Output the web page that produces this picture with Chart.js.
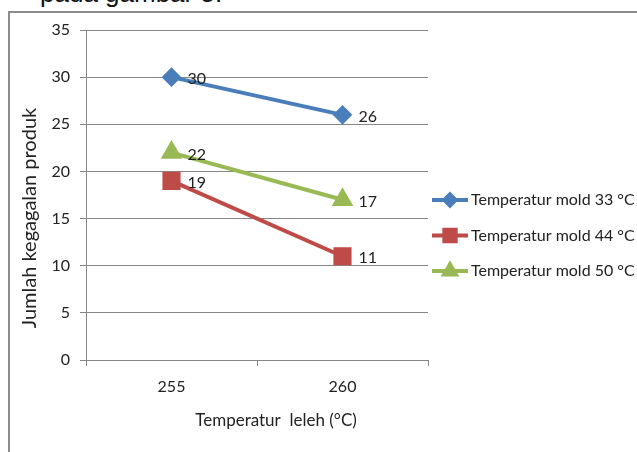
<!DOCTYPE html>
<html lang="en">
<head>
  <meta charset="UTF-8">
  <title>Temperatur leleh</title>
  <script src="https://cdn.jsdelivr.net/npm/chart.js"></script>
  <style>
    html, body {
      margin: 0;
      padding: 0;
      background: #fff;
      overflow: hidden;
    }
    #wrap {
      position: relative;
      width: 637px;
      height: 452px;
    }
    #caption {
      position: absolute;
      left: 40px;
      top: -22px;
      font-family: "Liberation Sans", Arial, sans-serif;
      font-size: 26px;
      color: #111;
      white-space: nowrap;
    }
    #frame {
      position: absolute;
      left: 8px;
      top: 11px;
      width: 640px;
      height: 460px;
      border: 2px solid #8c8c8c;
      box-sizing: border-box;
    }
    #chart {
      position: absolute;
      left: 0;
      top: 0;
    }
  </style>
</head>
<body>
  <div id="wrap">
    <div id="caption">pada gambar 5.</div>
    <div id="frame"></div>
    <canvas id="chart" width="637" height="452"></canvas>
  </div>

  <script>
    const categories = ['255', '260'];
    const seriesNames = ['Temperatur mold 33 °C', 'Temperatur mold 44 °C', 'Temperatur mold 50 °C'];
    const mold33 = [30, 26];
    const mold44 = [19, 11];
    const mold50 = [22, 17];
    const xTitle = 'Temperatur  leleh (°C)';
    const yTitle = 'Jumlah kegagalan produk';

    const colors = ['#4a7ebb', '#be4b48', '#98b954'];
    const styles = ['rectRot', 'rect', 'triangle'];
    const radii = [7, 10, 8.5];
    const font = 'Lato, sans-serif';

    // value labels to the right of each point
    const valueLabels = {
      id: 'valueLabels',
      afterDatasetsDraw(chart) {
        const ctx = chart.ctx;
        ctx.save();
        ctx.font = '16px ' + font;
        ctx.fillStyle = '#222';
        ctx.textAlign = 'left';
        ctx.textBaseline = 'middle';
        chart.data.datasets.forEach((ds, i) => {
          chart.getDatasetMeta(i).data.forEach((pt, j) => {
            ctx.fillText(ds.data[j], pt.x + 16, pt.y + 2);
          });
        });
        ctx.restore();
      }
    };

    // axis titles + legend (Excel style, line with marker)
    const extras = {
      id: 'extras',
      afterDraw(chart) {
        const ctx = chart.ctx;
        const a = chart.chartArea;
        ctx.save();
        ctx.fillStyle = '#222';
        ctx.font = '17px ' + font;
        ctx.textAlign = 'center';
        ctx.textBaseline = 'middle';
        ctx.fillText(xTitle, (a.left + a.right) / 2 + 19, a.bottom + 61);

        ctx.save();
        ctx.translate(a.left - 56, (a.top + a.bottom) / 2 + 23);
        ctx.rotate(-Math.PI / 2);
        ctx.font = '20px ' + font;
        ctx.fillText(yTitle, 0, 0);
        ctx.restore();

        ctx.font = '16px ' + font;
        ctx.textAlign = 'left';
        chart.data.datasets.forEach((ds, i) => {
          const y = a.top + 170 + i * 35.5;
          const x0 = a.right + 4;
          ctx.strokeStyle = ds.borderColor;
          ctx.lineWidth = 4;
          ctx.beginPath();
          ctx.moveTo(x0, y);
          ctx.lineTo(x0 + 36, y);
          ctx.stroke();
          Chart.helpers.drawPoint(ctx, {
            pointStyle: ds.pointStyle,
            radius: ds.pointRadius * 0.8,
            rotation: 0,
            borderWidth: 1
          }, x0 + 18, y);
          ctx.fillStyle = ds.borderColor;
          ctx.fill();
          ctx.fillStyle = '#222';
          ctx.fillText(ds.label, x0 + 39, y);
        });
        ctx.restore();
      }
    };

    const seriesData = [mold33, mold44, mold50];

    new Chart(document.getElementById('chart'), {
      type: 'line',
      data: {
        labels: categories,
        datasets: seriesData.map((d, i) => ({
          label: seriesNames[i],
          data: d,
          borderColor: colors[i],
          backgroundColor: colors[i],
          pointBackgroundColor: colors[i],
          pointBorderColor: colors[i],
          pointStyle: styles[i],
          pointRadius: radii[i],
          borderWidth: 4,
          tension: 0,
          fill: false
        }))
      },
      options: {
        responsive: false,
        animation: false,
        layout: {
          padding: { left: 10, top: 30, right: 209, bottom: 0 }
        },
        plugins: {
          legend: { display: false },
          tooltip: { enabled: false }
        },
        scales: {
          x: {
            offset: true,
            grid: {
              offset: true,
              drawOnChartArea: false,
              color: '#868686',
              tickLength: 6
            },
            border: { color: '#868686', width: 1 },
            ticks: {
              color: '#222',
              font: { family: font, size: 16 },
              padding: 11
            },
            afterFit(scale) { scale.height = 92; }
          },
          y: {
            min: 0,
            max: 35,
            ticks: {
              stepSize: 5,
              color: '#222',
              font: { family: font, size: 16 },
              padding: 10
            },
            grid: {
              color: '#868686',
              tickLength: 6
            },
            border: { color: '#868686', width: 1 },
            afterFit(scale) { scale.width = 76; }
          }
        }
      },
      plugins: [valueLabels, extras]
    });
  </script>
</body>
</html>
